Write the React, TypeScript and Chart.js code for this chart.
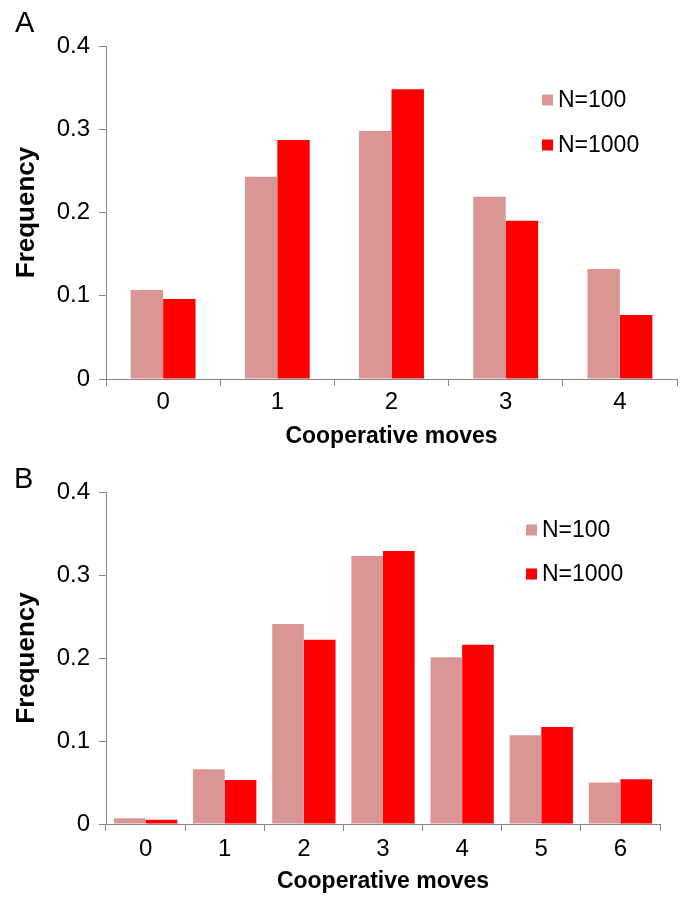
import React, { useEffect, useRef } from 'react';
import { Chart, registerables } from 'chart.js';

Chart.register(...registerables);

// ---- data ----
const categoriesA = ['0', '1', '2', '3', '4'];
const n100A = [0.107, 0.243, 0.298, 0.219, 0.132];
const n1000A = [0.096, 0.287, 0.348, 0.19, 0.077];

const categoriesB = ['0', '1', '2', '3', '4', '5', '6'];
const n100B = [0.007, 0.066, 0.241, 0.323, 0.201, 0.107, 0.05];
const n1000B = [0.005, 0.053, 0.222, 0.329, 0.216, 0.117, 0.054];

const seriesLabels = ['N=100', 'N=1000'];
const seriesColors = ['#D99694', '#FF0000'];
const yMin = 0;
const yMax = 0.4;
const yStep = 0.1;
const xTitle = 'Cooperative moves';
const yTitle = 'Frequency';

const FONT = '"Liberation Sans", Arial, Helvetica, sans-serif';
const AXIS = '#868686';

const overlayPlugin = {
  id: 'overlay',
  afterDraw(chart: any, _args: any, opts: any) {
    const ctx = chart.ctx;
    ctx.save();
    ctx.fillStyle = '#000';
    ctx.font = `29px ${FONT}`;
    ctx.textBaseline = 'alphabetic';
    ctx.textAlign = 'left';
    ctx.fillText(opts.letter, opts.letterX, opts.letterY);
    const box = opts.box;
    chart.data.datasets.forEach((ds: any, i: number) => {
      const cy = opts.legendY + i * opts.legendGap;
      ctx.fillStyle = ds.backgroundColor;
      ctx.fillRect(opts.legendX, cy - box / 2, box, box);
      ctx.fillStyle = '#000';
      ctx.font = `23px ${FONT}`;
      ctx.textBaseline = 'middle';
      ctx.fillText(ds.label, opts.legendX + box + 5, cy + 1);
    });
    ctx.restore();
  },
};

function makeConfig(
  cats: string[],
  a: number[],
  b: number[],
  catPct: number,
  padTop: number,
  padRight: number,
  xHeight: number,
  tickPad: number,
  titlePadBottom: number,
  overlay: any
): any {
  return {
    type: 'bar',
    data: {
      labels: cats,
      datasets: [
        { label: seriesLabels[0], data: a, backgroundColor: seriesColors[0], borderWidth: 0, categoryPercentage: catPct, barPercentage: 1 },
        { label: seriesLabels[1], data: b, backgroundColor: seriesColors[1], borderWidth: 0, categoryPercentage: catPct, barPercentage: 1 },
      ],
    },
    plugins: [overlayPlugin],
    options: {
      animation: false,
      responsive: false,
      devicePixelRatio: 1,
      layout: { padding: { top: padTop, right: padRight, left: 0, bottom: 0 } },
      plugins: {
        legend: { display: false },
        tooltip: { enabled: false },
        overlay,
      },
      scales: {
        x: {
          offset: true,
          grid: { offset: true, drawOnChartArea: false, drawTicks: true, tickLength: 7, color: AXIS, lineWidth: 1 },
          border: { display: true, color: AXIS, width: 1 },
          ticks: { color: '#000', font: { family: FONT, size: 24 }, padding: tickPad, maxRotation: 0 },
          title: { display: true, text: xTitle, color: '#000', font: { family: FONT, size: 23, weight: 'bold', lineHeight: 1 }, padding: { top: 0, bottom: titlePadBottom } },
          afterFit: (s: any) => { s.height = xHeight; },
        },
        y: {
          min: yMin,
          max: yMax,
          ticks: {
            stepSize: yStep,
            color: '#000',
            font: { family: FONT, size: 24 },
            padding: 9,
            callback: (v: any) => (Number(v) === 0 ? '0' : Number(v).toFixed(1)),
          },
          grid: { drawOnChartArea: false, drawTicks: true, tickLength: 7, color: AXIS, lineWidth: 1 },
          border: { display: true, color: AXIS, width: 1 },
          title: { display: true, text: yTitle, color: '#000', font: { family: FONT, size: 26, weight: 'bold', lineHeight: 1 }, padding: { top: 14, bottom: 0 } },
          afterFit: (s: any) => { s.width = 106; },
        },
      },
    },
  };
}

export default function App() {
  const refA = useRef<HTMLCanvasElement>(null);
  const refB = useRef<HTMLCanvasElement>(null);

  useEffect(() => {
    const cA = new Chart(
      refA.current as HTMLCanvasElement,
      makeConfig(categoriesA, n100A, n1000A, 0.568, 46, 6, 71, 2, 1.5, {
        letter: 'A', letterX: 15, letterY: 32, legendX: 542, legendY: 100, legendGap: 45, box: 11,
      })
    );
    const cB = new Chart(
      refB.current as HTMLCanvasElement,
      makeConfig(categoriesB, n100B, n1000B, 0.8, 42, 23, 73, 4, 3.5, {
        letter: 'B', letterX: 14, letterY: 38, legendX: 526, legendY: 80, legendGap: 44, box: 11,
      })
    );
    return () => {
      cA.destroy();
      cB.destroy();
    };
  }, []);

  return (
    <div style={{ position: 'absolute', left: 0, top: 0, width: 683, height: 897, background: '#fff' }}>
      <canvas ref={refA} width={683} height={450} style={{ display: 'block', width: 683, height: 450 }} />
      <canvas ref={refB} width={683} height={447} style={{ display: 'block', width: 683, height: 447 }} />
    </div>
  );
}
